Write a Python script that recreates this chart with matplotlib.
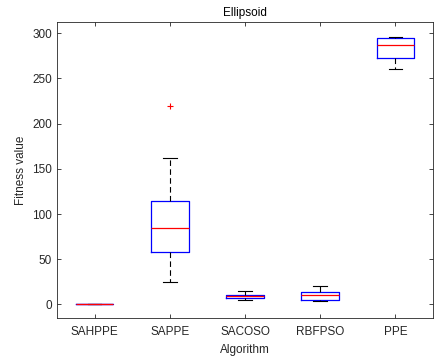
import matplotlib.pyplot as plt

plt.rcParams['font.family'] = ['Liberation Sans', 'DejaVu Sans']
plt.rcParams['font.size'] = 8.5

# five-number summaries per algorithm
algorithms = ['SAHPPE', 'SAPPE', 'SACOSO', 'RBFPSO', 'PPE']
whislo = [0.0, 24.4, 4.8, 3.7, 260.8]
q1 = [0.0, 57.6, 6.8, 5.1, 273.0]
med = [0.1, 84.5, 8.8, 11.0, 287.4]
q3 = [0.4, 114.7, 11.0, 13.3, 295.0]
whishi = [0.6, 161.6, 14.7, 20.6, 296.3]
fliers = [[], [219.9], [], [], []]

stats = []
for i, name in enumerate(algorithms):
    stats.append({'label': name, 'whislo': whislo[i], 'q1': q1[i], 'med': med[i],
                  'q3': q3[i], 'whishi': whishi[i], 'fliers': fliers[i]})

fig = plt.figure(figsize=(4.39, 3.57), dpi=100)
ax = fig.add_axes([57 / 439, 39 / 357, 376 / 439, 296 / 357])

gray = '#262626'
ax.bxp(stats, widths=0.5, capwidths=0.18,
       boxprops=dict(color='blue', linewidth=0.9),
       medianprops=dict(color='red', linewidth=0.9),
       whiskerprops=dict(color='black', linewidth=0.8, linestyle=(0, (5, 3))),
       capprops=dict(color='black', linewidth=0.8),
       flierprops=dict(marker='+', markeredgecolor='red', markersize=5,
                       markeredgewidth=0.8, linestyle='none'))

ax.set_xlim(0.5, 5.5)
ax.set_ylim(-15, 312.5)
ax.set_yticks([0, 50, 100, 150, 200, 250, 300])

for s in ax.spines.values():
    s.set_color(gray)
    s.set_linewidth(0.6)
ax.tick_params(direction='in', top=True, right=True, colors=gray, length=3, width=0.6)
ax.tick_params(axis='x', pad=6)

ax.set_title('Ellipsoid', fontsize=8.5, color='black', pad=4)
ax.set_xlabel('Algorithm', color=gray, fontsize=8.5, labelpad=4)
ax.set_ylabel('Fitness value', color=gray, fontsize=8.5, labelpad=4)

fig.savefig('out.png', dpi=100)
